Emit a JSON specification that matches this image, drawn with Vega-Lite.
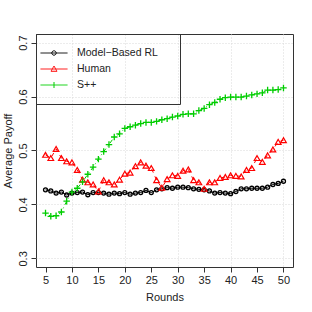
{
  "$schema": "https://vega.github.io/schema/vega-lite/v6.json",
  "autosize": "none",
  "width": 257,
  "height": 233,
  "padding": {"left": 36, "top": 34, "right": 19, "bottom": 45},
  "background": "white",
  "config": {
    "font": "Liberation Sans",
    "view": {"stroke": "#333333", "strokeWidth": 1},
    "axis": {"labelFont": "Liberation Sans", "titleFont": "Liberation Sans", "labelFontSize": 11, "titleFontSize": 11, "titleFontWeight": "normal", "labelColor": "#222222", "titleColor": "#222222", "tickColor": "#333333", "tickSize": 5, "domain": false, "gridColor": "#d8d8d8", "gridDash": [1, 2], "gridWidth": 1}
  },
  "data": {"values": [
    {"round": 5, "series": "Model−Based RL", "payoff": 0.427},
    {"round": 6, "series": "Model−Based RL", "payoff": 0.425},
    {"round": 7, "series": "Model−Based RL", "payoff": 0.421},
    {"round": 8, "series": "Model−Based RL", "payoff": 0.423},
    {"round": 9, "series": "Model−Based RL", "payoff": 0.4175},
    {"round": 10, "series": "Model−Based RL", "payoff": 0.421},
    {"round": 11, "series": "Model−Based RL", "payoff": 0.422},
    {"round": 12, "series": "Model−Based RL", "payoff": 0.423},
    {"round": 13, "series": "Model−Based RL", "payoff": 0.418},
    {"round": 14, "series": "Model−Based RL", "payoff": 0.422},
    {"round": 15, "series": "Model−Based RL", "payoff": 0.422},
    {"round": 16, "series": "Model−Based RL", "payoff": 0.421},
    {"round": 17, "series": "Model−Based RL", "payoff": 0.419},
    {"round": 18, "series": "Model−Based RL", "payoff": 0.421},
    {"round": 19, "series": "Model−Based RL", "payoff": 0.420},
    {"round": 20, "series": "Model−Based RL", "payoff": 0.422},
    {"round": 21, "series": "Model−Based RL", "payoff": 0.419},
    {"round": 22, "series": "Model−Based RL", "payoff": 0.421},
    {"round": 23, "series": "Model−Based RL", "payoff": 0.422},
    {"round": 24, "series": "Model−Based RL", "payoff": 0.426},
    {"round": 25, "series": "Model−Based RL", "payoff": 0.422},
    {"round": 26, "series": "Model−Based RL", "payoff": 0.427},
    {"round": 27, "series": "Model−Based RL", "payoff": 0.429},
    {"round": 28, "series": "Model−Based RL", "payoff": 0.431},
    {"round": 29, "series": "Model−Based RL", "payoff": 0.430},
    {"round": 30, "series": "Model−Based RL", "payoff": 0.432},
    {"round": 31, "series": "Model−Based RL", "payoff": 0.432},
    {"round": 32, "series": "Model−Based RL", "payoff": 0.431},
    {"round": 33, "series": "Model−Based RL", "payoff": 0.429},
    {"round": 34, "series": "Model−Based RL", "payoff": 0.428},
    {"round": 35, "series": "Model−Based RL", "payoff": 0.427},
    {"round": 36, "series": "Model−Based RL", "payoff": 0.425},
    {"round": 37, "series": "Model−Based RL", "payoff": 0.421},
    {"round": 38, "series": "Model−Based RL", "payoff": 0.422},
    {"round": 39, "series": "Model−Based RL", "payoff": 0.421},
    {"round": 40, "series": "Model−Based RL", "payoff": 0.420},
    {"round": 41, "series": "Model−Based RL", "payoff": 0.424},
    {"round": 42, "series": "Model−Based RL", "payoff": 0.429},
    {"round": 43, "series": "Model−Based RL", "payoff": 0.429},
    {"round": 44, "series": "Model−Based RL", "payoff": 0.430},
    {"round": 45, "series": "Model−Based RL", "payoff": 0.430},
    {"round": 46, "series": "Model−Based RL", "payoff": 0.430},
    {"round": 47, "series": "Model−Based RL", "payoff": 0.432},
    {"round": 48, "series": "Model−Based RL", "payoff": 0.437},
    {"round": 49, "series": "Model−Based RL", "payoff": 0.439},
    {"round": 50, "series": "Model−Based RL", "payoff": 0.443},
    {"round": 5, "series": "Human", "payoff": 0.492},
    {"round": 6, "series": "Human", "payoff": 0.486},
    {"round": 7, "series": "Human", "payoff": 0.503},
    {"round": 8, "series": "Human", "payoff": 0.486},
    {"round": 9, "series": "Human", "payoff": 0.480},
    {"round": 10, "series": "Human", "payoff": 0.478},
    {"round": 11, "series": "Human", "payoff": 0.464},
    {"round": 12, "series": "Human", "payoff": 0.446},
    {"round": 13, "series": "Human", "payoff": 0.441},
    {"round": 14, "series": "Human", "payoff": 0.437},
    {"round": 15, "series": "Human", "payoff": 0.424},
    {"round": 16, "series": "Human", "payoff": 0.445},
    {"round": 17, "series": "Human", "payoff": 0.441},
    {"round": 18, "series": "Human", "payoff": 0.437},
    {"round": 19, "series": "Human", "payoff": 0.446},
    {"round": 20, "series": "Human", "payoff": 0.457},
    {"round": 21, "series": "Human", "payoff": 0.459},
    {"round": 22, "series": "Human", "payoff": 0.471},
    {"round": 23, "series": "Human", "payoff": 0.478},
    {"round": 24, "series": "Human", "payoff": 0.472},
    {"round": 25, "series": "Human", "payoff": 0.4675},
    {"round": 26, "series": "Human", "payoff": 0.445},
    {"round": 27, "series": "Human", "payoff": 0.431},
    {"round": 28, "series": "Human", "payoff": 0.447},
    {"round": 29, "series": "Human", "payoff": 0.454},
    {"round": 30, "series": "Human", "payoff": 0.453},
    {"round": 31, "series": "Human", "payoff": 0.4625},
    {"round": 32, "series": "Human", "payoff": 0.465},
    {"round": 33, "series": "Human", "payoff": 0.445},
    {"round": 34, "series": "Human", "payoff": 0.441},
    {"round": 35, "series": "Human", "payoff": 0.429},
    {"round": 36, "series": "Human", "payoff": 0.441},
    {"round": 37, "series": "Human", "payoff": 0.441},
    {"round": 38, "series": "Human", "payoff": 0.449},
    {"round": 39, "series": "Human", "payoff": 0.451},
    {"round": 40, "series": "Human", "payoff": 0.454},
    {"round": 41, "series": "Human", "payoff": 0.453},
    {"round": 42, "series": "Human", "payoff": 0.452},
    {"round": 43, "series": "Human", "payoff": 0.464},
    {"round": 44, "series": "Human", "payoff": 0.4675},
    {"round": 45, "series": "Human", "payoff": 0.486},
    {"round": 46, "series": "Human", "payoff": 0.479},
    {"round": 47, "series": "Human", "payoff": 0.491},
    {"round": 48, "series": "Human", "payoff": 0.502},
    {"round": 49, "series": "Human", "payoff": 0.516},
    {"round": 50, "series": "Human", "payoff": 0.519},
    {"round": 5, "series": "S++", "payoff": 0.384},
    {"round": 6, "series": "S++", "payoff": 0.378},
    {"round": 7, "series": "S++", "payoff": 0.379},
    {"round": 8, "series": "S++", "payoff": 0.386},
    {"round": 9, "series": "S++", "payoff": 0.406},
    {"round": 10, "series": "S++", "payoff": 0.423},
    {"round": 11, "series": "S++", "payoff": 0.430},
    {"round": 12, "series": "S++", "payoff": 0.442},
    {"round": 13, "series": "S++", "payoff": 0.456},
    {"round": 14, "series": "S++", "payoff": 0.469},
    {"round": 15, "series": "S++", "payoff": 0.484},
    {"round": 16, "series": "S++", "payoff": 0.498},
    {"round": 17, "series": "S++", "payoff": 0.511},
    {"round": 18, "series": "S++", "payoff": 0.525},
    {"round": 19, "series": "S++", "payoff": 0.531},
    {"round": 20, "series": "S++", "payoff": 0.541},
    {"round": 21, "series": "S++", "payoff": 0.544},
    {"round": 22, "series": "S++", "payoff": 0.547},
    {"round": 23, "series": "S++", "payoff": 0.550},
    {"round": 24, "series": "S++", "payoff": 0.552},
    {"round": 25, "series": "S++", "payoff": 0.552},
    {"round": 26, "series": "S++", "payoff": 0.554},
    {"round": 27, "series": "S++", "payoff": 0.557},
    {"round": 28, "series": "S++", "payoff": 0.559},
    {"round": 29, "series": "S++", "payoff": 0.562},
    {"round": 30, "series": "S++", "payoff": 0.564},
    {"round": 31, "series": "S++", "payoff": 0.567},
    {"round": 32, "series": "S++", "payoff": 0.568},
    {"round": 33, "series": "S++", "payoff": 0.568},
    {"round": 34, "series": "S++", "payoff": 0.574},
    {"round": 35, "series": "S++", "payoff": 0.578},
    {"round": 36, "series": "S++", "payoff": 0.585},
    {"round": 37, "series": "S++", "payoff": 0.589},
    {"round": 38, "series": "S++", "payoff": 0.595},
    {"round": 39, "series": "S++", "payoff": 0.598},
    {"round": 40, "series": "S++", "payoff": 0.599},
    {"round": 41, "series": "S++", "payoff": 0.599},
    {"round": 42, "series": "S++", "payoff": 0.599},
    {"round": 43, "series": "S++", "payoff": 0.601},
    {"round": 44, "series": "S++", "payoff": 0.603},
    {"round": 45, "series": "S++", "payoff": 0.605},
    {"round": 46, "series": "S++", "payoff": 0.607},
    {"round": 47, "series": "S++", "payoff": 0.612},
    {"round": 48, "series": "S++", "payoff": 0.612},
    {"round": 49, "series": "S++", "payoff": 0.613},
    {"round": 50, "series": "S++", "payoff": 0.616}
  ]},
  "encoding": {
    "x": {"field": "round", "type": "quantitative", "title": "Rounds",
      "scale": {"domain": [3.2, 51.8], "nice": false, "zero": false},
      "axis": {"values": [5, 10, 15, 20, 25, 30, 35, 40, 45, 50], "labelPadding": 2, "titlePadding": 6, "labelFlush": false,
        "gridOpacity": {"condition": {"test": "datum.value % 10 === 0", "value": 1}, "value": 0}}},
    "y": {"field": "payoff", "type": "quantitative", "title": "Average Payoff",
      "scale": {"domain": [0.284, 0.716], "nice": false, "zero": false},
      "axis": {"values": [0.3, 0.4, 0.5, 0.6, 0.7], "format": ".1f", "labelAngle": -90, "labelAlign": "center", "labelBaseline": "bottom", "labelPadding": 3, "titlePadding": 4, "labelFlush": false}},
    "color": {"field": "series", "type": "nominal",
      "scale": {"domain": ["Model−Based RL", "Human", "S++"], "range": ["#000000", "#FF0000", "#00CD00"]},
      "legend": {
        "title": null, "orient": "none", "legendX": 0, "legendY": 0,
        "strokeColor": "#333333", "padding": 13.5, "symbolSize": 100, "symbolStrokeWidth": 1,
        "symbolOffset": -1, "labelOffset": 17.5, "rowPadding": 5,
        "labelFont": "Liberation Sans", "labelFontSize": 10.5, "labelColor": "#222222",
        "labelExpr": "datum.label + '\u2800'",
        "encode": {"symbols": {"update": {
          "fill": {"value": "transparent"},
          "strokeDash": {"value": [1, 0]},
          "shape": {"signal": "datum.value === 'Human' ? 'M-2.7,0H2.7M-0.6,0.45L0.6,0.45L0,-0.6Z' : (datum.value === 'S++' ? 'M-2.7,0H2.7M0,-0.6V0.6' : 'M-2.7,0H2.7M-0.44,0A0.44,0.44 0 1,1 0.44,0A0.44,0.44 0 1,1 -0.44,0')"}
        }}}
      }}
  },
  "layer": [
    {"transform": [{"filter": "datum.series === 'Model−Based RL'"}], "mark": {"type": "line", "strokeWidth": 1}},
    {"transform": [{"filter": "datum.series === 'Human'"}], "mark": {"type": "line", "strokeWidth": 1, "strokeDash": [4, 4]}},
    {"transform": [{"filter": "datum.series === 'S++'"}], "mark": {"type": "line", "strokeWidth": 1, "strokeDash": [1, 3, 4, 3]}},
    {"transform": [{"filter": "datum.series === 'Model−Based RL'"}], "mark": {"type": "point", "shape": "circle", "size": 16, "filled": false, "strokeWidth": 1.3, "opacity": 1}},
    {"transform": [{"filter": "datum.series === 'Human'"}], "mark": {"type": "point", "shape": "triangle-up", "size": 32, "filled": false, "strokeWidth": 1.2, "opacity": 1}},
    {"transform": [{"filter": "datum.series === 'S++'"}], "mark": {"type": "point", "shape": "M-1,0H1M0,-1V1", "size": 42, "filled": false, "strokeWidth": 1.3, "opacity": 1}}
  ]
}
